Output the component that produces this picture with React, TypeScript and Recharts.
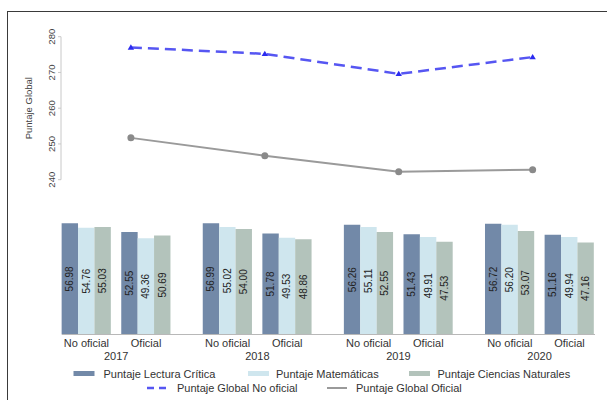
import { LineChart, Line, BarChart, Bar, XAxis, YAxis, LabelList } from "recharts";

const years = [2017, 2018, 2019, 2020];
const schoolTypes = ["No oficial", "Oficial"];

// Puntaje global por año
const globalNoOficial = [277.0, 275.2, 269.6, 274.3];
const globalOficial = [251.7, 246.7, 242.2, 242.8];
const globalTicks = [240, 250, 260, 270, 280];

// Puntajes por área, uno por año
const lecturaNoOficial = [56.98, 56.99, 56.26, 56.72];
const lecturaOficial = [52.55, 51.78, 51.43, 51.16];
const matNoOficial = [54.76, 55.02, 55.11, 56.2];
const matOficial = [49.36, 49.53, 49.91, 49.94];
const cienNoOficial = [55.03, 54.0, 52.55, 53.07];
const cienOficial = [50.69, 48.86, 47.53, 47.16];

const COL_LECTURA = "#7289a8";
const COL_MAT = "#cfe6ee";
const COL_CIEN = "#b3c3bb";
const COL_NO_OF = "#5656f2";
const COL_OF = "#9a9a9a";
const FONT = "'Liberation Sans', Arial, sans-serif";

// spacing between year groups on the bar axis (one unit = distance No oficial -> Oficial)
const YEAR_STEP = 2.367;

const lineData = years.map((year, i) => ({
  year,
  noOficial: globalNoOficial[i],
  oficial: globalOficial[i],
}));

const barData = years.flatMap((year, i) => [
  { pos: i * YEAR_STEP, year, type: schoolTypes[0], lectura: lecturaNoOficial[i], mat: matNoOficial[i], cien: cienNoOficial[i] },
  { pos: i * YEAR_STEP + 1, year, type: schoolTypes[1], lectura: lecturaOficial[i], mat: matOficial[i], cien: cienOficial[i] },
]);

const barTicks = years.flatMap((year, i) => [
  { pos: i * YEAR_STEP, label: schoolTypes[0], isYear: false },
  { pos: i * YEAR_STEP + 0.5, label: String(year), isYear: true },
  { pos: i * YEAR_STEP + 1, label: schoolTypes[1], isYear: false },
]);

function Triangle(props: any) {
  const { cx, cy, index } = props;
  if (cx == null || cy == null) return <g key={index} />;
  return (
    <path
      key={index}
      d={`M${cx},${cy - 3.2} L${cx + 3.2},${cy + 2.2} L${cx - 3.2},${cy + 2.2} Z`}
      fill="#2b2bf0"
    />
  );
}

function GlobalTick(props: any) {
  const { y, payload } = props;
  const tx = 51.7;
  return (
    <text
      x={tx}
      y={y}
      transform={`rotate(-90 ${tx} ${y})`}
      textAnchor="middle"
      dominantBaseline="central"
      fontSize={9.5}
      fontFamily={FONT}
      fill="#444"
    >
      {payload.value}
    </text>
  );
}

function BarTick(props: any) {
  const { x, y, payload } = props;
  const t = barTicks.find((b) => Math.abs(b.pos - payload.value) < 0.01);
  if (!t) return null;
  return (
    <text x={x} y={y + (t.isYear ? 25.5 : 12)} textAnchor="middle" fontSize={11} fontFamily={FONT} fill="#333">
      {t.label}
    </text>
  );
}

function VerticalValue(props: any) {
  const { x, y, width, height, value } = props;
  const cx = x + width / 2;
  const cy = y + height / 2;
  return (
    <text
      x={cx}
      y={cy}
      transform={`rotate(-90 ${cx} ${cy})`}
      textAnchor="middle"
      dominantBaseline="central"
      fontSize={10}
      fontFamily={FONT}
      fill="#222"
    >
      {Number(value).toFixed(2)}
    </text>
  );
}

function LegendBox() {
  const text = { fontSize: 11, fontFamily: FONT, fill: "#333" } as const;
  return (
    <svg width={607} height={40} style={{ position: "absolute", left: 0, top: 360 }}>
      <rect x={73.5} y={11} width={21} height={5} fill={COL_LECTURA} />
      <text x={103.5} y={17.5} {...text}>Puntaje Lectura Crítica</text>
      <rect x={248} y={11} width={21} height={5} fill={COL_MAT} />
      <text x={276} y={17.5} {...text}>Puntaje Matemáticas</text>
      <rect x={409} y={11} width={21} height={5} fill={COL_CIEN} />
      <text x={437.5} y={17.5} {...text}>Puntaje Ciencias Naturales</text>
      <line x1={147} y1={28} x2={167} y2={28} stroke={COL_NO_OF} strokeWidth={2.5} strokeDasharray="7 5" />
      <text x={177} y={32} {...text}>Puntaje Global No oficial</text>
      <line x1={327} y1={28} x2={347} y2={28} stroke={COL_OF} strokeWidth={2} />
      <text x={356} y={32} {...text}>Puntaje Global Oficial</text>
    </svg>
  );
}

export default function App() {
  return (
    <div style={{ position: "absolute", left: 0, top: 0, width: 607, height: 400, background: "#fff", overflow: "hidden" }}>
      <div
        style={{
          position: "absolute",
          left: 7,
          top: 11,
          width: 620,
          height: 400,
          borderLeft: "1.5px solid #3a3a3a",
          borderTop: "1.5px solid #3a3a3a",
        }}
      />
      <div style={{ position: "absolute", left: 0, top: 0 }}>
        <LineChart width={607} height={200} data={lineData} margin={{ top: 36.7, right: 7, bottom: 20.3, left: 0 }}>
          <XAxis dataKey="year" type="number" domain={[2016.478, 2020.503]} hide />
          <YAxis
            domain={[240, 280]}
            ticks={globalTicks}
            width={61}
            tickSize={3}
            axisLine={{ stroke: "#c8c8c8" }}
            tickLine={{ stroke: "#c8c8c8" }}
            tick={<GlobalTick />}
            label={{
              value: "Puntaje Global",
              angle: -90,
              position: "center",
              dx: -1.5,
              style: { fontSize: 9.5, fontFamily: FONT, fill: "#444" },
            }}
          />
          <Line
            dataKey="noOficial"
            stroke={COL_NO_OF}
            strokeWidth={2.5}
            strokeDasharray="11 6"
            dot={Triangle}
            isAnimationActive={false}
          />
          <Line
            dataKey="oficial"
            stroke={COL_OF}
            strokeWidth={2}
            dot={{ r: 3.5, fill: "#8a8a8a", stroke: "#8a8a8a", strokeWidth: 0 }}
            isAnimationActive={false}
          />
        </LineChart>
      </div>
      <div style={{ position: "absolute", left: 0, top: 200 }}>
        <BarChart width={607} height={200} data={barData} barGap={0} margin={{ top: 17.4, right: 12, bottom: 0, left: 62 }}>
          <XAxis
            dataKey="pos"
            type="number"
            domain={[-0.41, 8.53]}
            ticks={barTicks.map((t) => t.pos)}
            interval={0}
            height={65.5}
            tickSize={0}
            tickMargin={0}
            axisLine={{ stroke: "#b8b8b8" }}
            tickLine={false}
            tick={<BarTick />}
          />
          <YAxis hide domain={[0, 60]} />
          <Bar dataKey="lectura" fill={COL_LECTURA} barSize={16.4} isAnimationActive={false}>
            <LabelList dataKey="lectura" content={<VerticalValue />} />
          </Bar>
          <Bar dataKey="mat" fill={COL_MAT} barSize={16.4} isAnimationActive={false}>
            <LabelList dataKey="mat" content={<VerticalValue />} />
          </Bar>
          <Bar dataKey="cien" fill={COL_CIEN} barSize={16.4} isAnimationActive={false}>
            <LabelList dataKey="cien" content={<VerticalValue />} />
          </Bar>
        </BarChart>
      </div>
      <LegendBox />
    </div>
  );
}
